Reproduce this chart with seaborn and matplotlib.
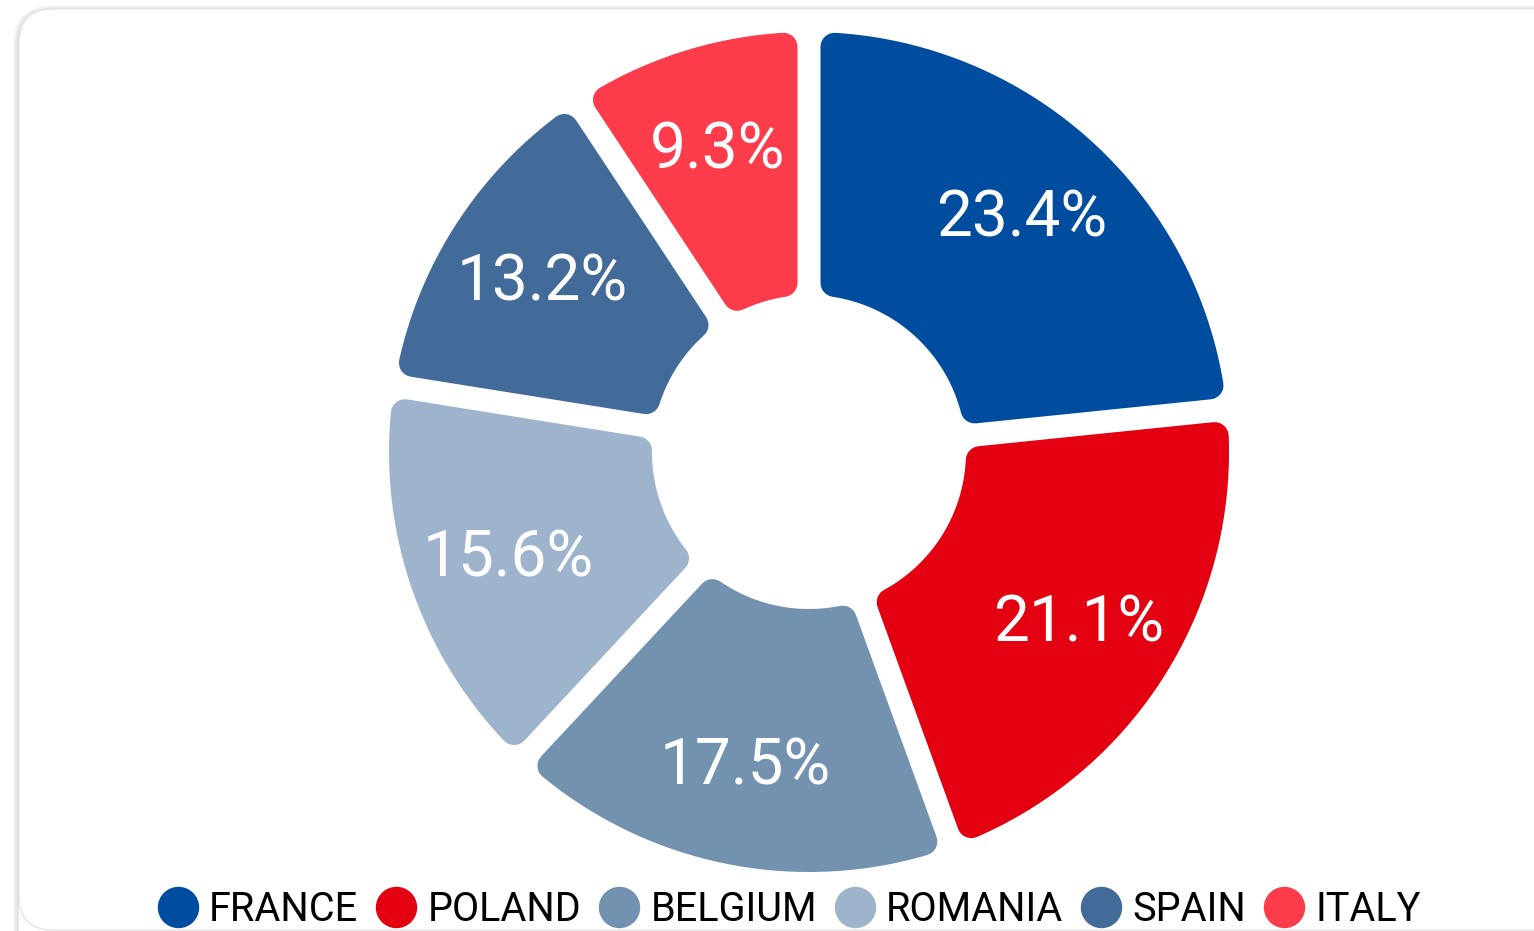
import numpy as np
import matplotlib
matplotlib.use("Agg")
import matplotlib.pyplot as plt
from matplotlib.patches import Polygon, FancyBboxPatch
from matplotlib.lines import Line2D
import seaborn as sns

# share of each country, clockwise from 12 o'clock
countries = ["FRANCE", "POLAND", "BELGIUM", "ROMANIA", "SPAIN", "ITALY"]
shares = [23.4, 21.1, 17.5, 15.6, 13.2, 9.3]
colors = ["#004C9F", "#E30011", "#7392AF", "#9EB4CD", "#426B99", "#FC3C4A"]

sns.set_theme(style="white")
plt.rcParams["font.family"] = ["Roboto", "DejaVu Sans"]
palette = sns.color_palette(colors)

W, H, DPI = 1534, 931, 100
fig = plt.figure(figsize=(W / DPI, H / DPI), dpi=DPI)
fig.patch.set_facecolor("white")
ax = fig.add_axes([0, 0, 1, 1])
ax.set_xlim(0, W)
ax.set_ylim(H, 0)
ax.axis("off")

# card with soft shadow
for i, a in enumerate([0.04, 0.04, 0.05]):
    ax.add_patch(FancyBboxPatch((19 - 1 - i, 9 - 1 - i + 2), 1600, 960,
                                boxstyle="round,pad=0,rounding_size=36",
                                fc="none", ec=(0, 0, 0, a), lw=1.5 + i))
ax.add_patch(FancyBboxPatch((19, 9), 1600, 921,
                            boxstyle="round,pad=0,rounding_size=34",
                            fc="white", ec="#e4e4e4", lw=1))

cx, cy = 809, 452
R, r = 420, 157
gap = 23
cr = 14  # corner radius
px2pt = 72 / DPI


def wedge(a, b, col):
    # a > b, angles in degrees (math convention), clockwise sweep a -> b
    dd = gap / 2 + cr
    Ro, Ri = R - cr, r + cr
    do = np.degrees(np.arcsin(dd / Ro))
    di = np.degrees(np.arcsin(dd / Ri))
    t_out = np.radians(np.linspace(a - do, b + do, 120))
    t_in = np.radians(np.linspace(b + di, a - di, 60))
    xs = np.concatenate([cx + Ro * np.cos(t_out), cx + Ri * np.cos(t_in)])
    ys = np.concatenate([cy - Ro * np.sin(t_out), cy - Ri * np.sin(t_in)])
    p = Polygon(np.column_stack([xs, ys]), closed=True, fc=col, ec=col,
                lw=2 * cr * px2pt, joinstyle="round")
    ax.add_patch(p)


total = sum(shares)
start = 90.0
for name, val, col in zip(countries, shares, palette):
    sweep = val / total * 360
    wedge(start, start - sweep, col)
    mid = np.radians(start - sweep / 2)
    lr = 318
    ax.text(cx + lr * np.cos(mid), cy - lr * np.sin(mid) + 3, f"{val}%",
            color="white", fontsize=46, ha="center", va="center")
    start -= sweep

handles = [Line2D([], [], marker="o", ls="none", ms=40 * px2pt,
                  mfc=c, mec=c) for c in palette]
fig.legend(handles, countries, loc="center", bbox_to_anchor=(0.5145, 0.0235),
           ncol=6, frameon=False, fontsize=28.5, handlelength=1.02,
           handletextpad=0.28, columnspacing=0.45, borderpad=0,
           labelcolor="black")

fig.savefig("out.png", dpi=DPI, facecolor="white")
